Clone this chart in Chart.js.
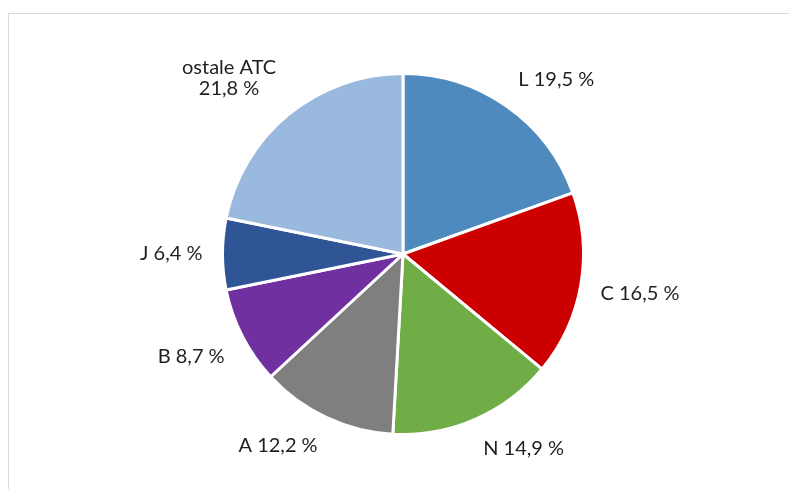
<!DOCTYPE html>
<html>
<head>
<meta charset="utf-8">
<script src="https://cdn.jsdelivr.net/npm/chart.js@4"></script>
<style>
  html, body { margin: 0; padding: 0; background: #fff; overflow: hidden; }
  #wrap { position: relative; width: 789px; height: 489px; }
  #frame { position: absolute; left: 8px; top: 13px; width: 800px; height: 500px; border: 1px solid #d9d9d9; }
  canvas { position: absolute; left: 0; top: 0; }
</style>
</head>
<body>
<div id="wrap">
  <div id="frame"></div>
  <canvas id="pie" width="789" height="489"></canvas>
</div>
<script>
// ====== DATA ======
const categories = ["L", "C", "N", "A", "B", "J", "ostale ATC"];
const shares = [19.5, 16.5, 14.9, 12.2, 8.7, 6.4, 21.8];
const sliceColors = ["#4f8abe", "#cc0000", "#70ad47", "#7f7f7f", "#7030a0", "#2f5597", "#9ab9df"];

const fmt = v => v.toFixed(1).replace(".", ",") + " %";

// labels outside end of every slice, Excel style
const outsideLabels = {
    id: "outsideLabels",
    afterDatasetsDraw(chart) {
        const ctx = chart.ctx;
        const arcs = chart.getDatasetMeta(0).data;
        ctx.save();
        ctx.font = '20px "Lato", sans-serif';
        ctx.fillStyle = "#1f1f1f";
        ctx.textAlign = "center";
        ctx.textBaseline = "middle";
        const lineH = 21;
        const clamp = t => Math.max(-1, Math.min(1, t));
        arcs.forEach((arc, i) => {
            const { x, y, startAngle, endAngle, outerRadius } = arc.getProps(["x", "y", "startAngle", "endAngle", "outerRadius"], true);
            const mid = (startAngle + endAngle) / 2;
            const r = outerRadius + 20;
            const px = x + Math.cos(mid) * r;
            const py = y + Math.sin(mid) * r;
            const lines = categories[i] === "ostale ATC"
                ? [categories[i], fmt(shares[i])]
                : [categories[i] + " " + fmt(shares[i])];
            const w = Math.max(...lines.map(l => ctx.measureText(l).width));
            const h = lines.length * lineH;
            const cx = px + clamp(Math.cos(mid) * 3) * w / 2;
            const cy = py + clamp(Math.sin(mid) * 3) * h / 2;
            lines.forEach((l, k) => {
                ctx.fillText(l, cx, cy - h / 2 + lineH / 2 + k * lineH);
            });
        });
        ctx.restore();
    }
};

// ====== CHART ======
new Chart(document.getElementById("pie"), {
    type: "pie",
    data: {
        labels: categories,
        datasets: [{
            data: shares,
            backgroundColor: sliceColors,
            borderColor: "#ffffff",
            borderWidth: 3
        }]
    },
    options: {
        responsive: false,
        animation: false,
        layout: { padding: { left: 100, right: 83, top: 72, bottom: 53 } },
        plugins: {
            legend: { display: false },
            tooltip: { enabled: false }
        }
    },
    plugins: [outsideLabels]
});
</script>
</body>
</html>
